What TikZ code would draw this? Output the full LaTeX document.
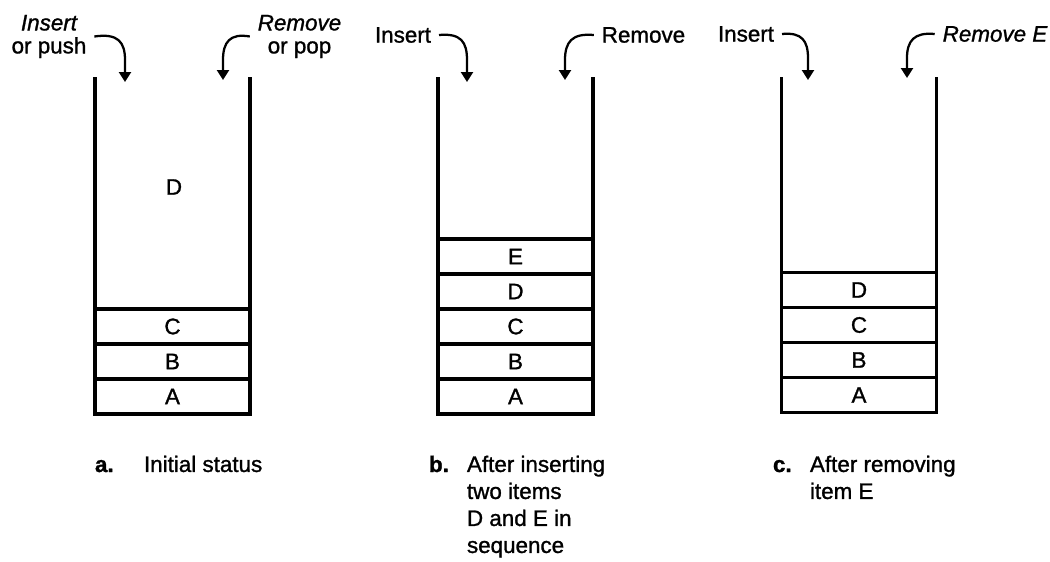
\documentclass[tikz,border=0pt]{standalone}
\usepackage{fontspec}
% slightly heavier strokes for all text
\setmainfont[RawFeature={embolden=1.2}]{Liberation Sans}
\usetikzlibrary{arrows.meta}

\begin{document}
\begin{tikzpicture}[x=0.75pt,y=-0.75pt,
  every node/.style={inner sep=0pt, outer sep=0pt},
  txt/.style={font=\fontsize{16.8pt}{20.25pt}\selectfont},
  lbl/.style={font=\fontsize{16.8pt}{17.25pt}\selectfont, align=center, inner xsep=6pt},
  cell/.style={draw, line width=2.3pt, minimum width=116.25pt, minimum height=26.25pt,
               font=\fontsize{16.8pt}{20.25pt}\selectfont},
  wall/.style={line width=2.3pt},
  push/.style={line width=1.7pt, -{Triangle[length=7.5pt,width=9pt]}},
  tagtext/.style={font=\fontsize{16.8pt}{20.25pt}\selectfont\bfseries, anchor=base west},
  capt/.style={font=\fontsize{16.8pt}{20.25pt}\selectfont, align=left, anchor=north west}
]
\useasboundingbox (0,0) rectangle (1050,561);

% ---------- stack a: initial status ----------
\node[cell] (a1) at (172.5,396.5) {A};
\node[cell] (a2) at (172.5,361.5) {B};
\node[cell] (a3) at (172.5,326.5) {C};
\node[txt] (aD) at (174,187) {D};
\coordinate (aTL) at (95,77);
\coordinate (aTR) at (250,77);
\draw[wall] (aTL) -- (a1.south west);
\draw[wall] (aTR) -- (a1.south east);

\node[lbl] (aIns) at (49,36.5) {\itshape Insert\\or push};
\node[lbl] (aRem) at (299.5,36.5) {\itshape Remove\\or pop};
\coordinate (aInTip) at (125,82);
\coordinate (aRmTip) at (223,80);
\draw[push] (aIns.east) .. controls (118,33) and (125,42) .. (125,60) -- (aInTip);
\draw[push] (aRem.west) .. controls (230,33) and (223,42) .. (223,60) -- (aRmTip);

\node[tagtext] (aTag) at (95,472) {a.};
\node[capt] (aCap) at (144,455.7) {Initial status};

% ---------- stack b: after inserting D and E ----------
\node[cell] (b1) at (515.5,396.5) {A};
\node[cell] (b2) at (515.5,361.5) {B};
\node[cell] (b3) at (515.5,326.5) {C};
\node[cell] (b4) at (515.5,291.5) {D};
\node[cell] (b5) at (515.5,256.5) {E};
\coordinate (bTL) at (438,77);
\coordinate (bTR) at (593,77);
\draw[wall] (bTL) -- (b1.south west);
\draw[wall] (bTR) -- (b1.south east);

\node[lbl] (bIns) at (403,35) {Insert};
\node[lbl] (bRem) at (643.5,35) {Remove};
\coordinate (bInTip) at (467,82);
\coordinate (bRmTip) at (565,80);
\draw[push] (bIns.east) .. controls (461,33) and (467,42) .. (467,60) -- (bInTip);
\draw[push] (bRem.west) .. controls (572,33) and (565,42) .. (565,60) -- (bRmTip);

\node[tagtext] (bTag) at (429,472) {b.};
\node[capt] (bCap) at (467,455.7) {After inserting\\two items\\D and E in\\sequence};

% ---------- stack c: after removing E ----------
\node[cell] (c1) at (859,395) {A};
\node[cell] (c2) at (859,360) {B};
\node[cell] (c3) at (859,325) {C};
\node[cell] (c4) at (859,290) {D};
\coordinate (cTL) at (781.5,77);
\coordinate (cTR) at (936.5,77);
\draw[wall] (cTL) -- (c1.south west);
\draw[wall] (cTR) -- (c1.south east);

\node[lbl] (cIns) at (746,34) {Insert};
\node[lbl] (cRem) at (995,34) {\itshape Remove E};
\coordinate (cInTip) at (808,80);
\coordinate (cRmTip) at (907,78);
\draw[push] (cIns.east) .. controls (802,32) and (808,41) .. (808,58) -- (cInTip);
\draw[push] (cRem.west) .. controls (914,32) and (907,41) .. (907,58) -- (cRmTip);

\node[tagtext] (cTag) at (773,472) {c.};
\node[capt] (cCap) at (810,455.7) {After removing\\item E};
\end{tikzpicture}
\end{document}
